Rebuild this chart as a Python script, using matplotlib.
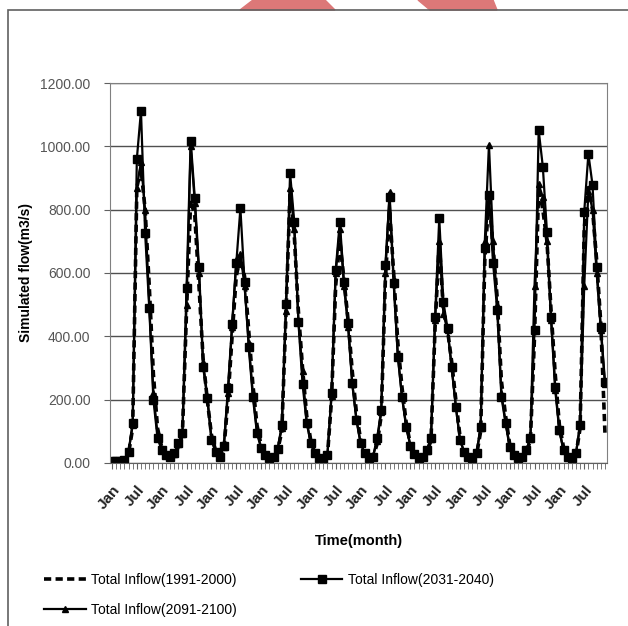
import numpy as np
import matplotlib.pyplot as plt
from matplotlib.patches import Rectangle, Polygon

plt.rcParams['font.family'] = ['Liberation Sans', 'DejaVu Sans']

# monthly simulated inflow, 10 years x 12 months (Jan..Dec)
inflow_1991_2000 = [
    3, 3, 4, 8, 30, 110, 870, 930, 800, 560, 280, 110,
    50, 25, 15, 20, 50, 90, 480, 830, 780, 560, 330, 200,
    90, 40, 20, 40, 200, 400, 590, 650, 590, 420, 250, 120,
    55, 25, 15, 18, 40, 100, 470, 860, 720, 480, 300, 150,
    70, 30, 15, 12, 20, 200, 560, 700, 580, 450, 290, 160,
    75, 35, 15, 18, 60, 150, 580, 800, 600, 380, 240, 130,
    60, 30, 15, 18, 35, 70, 430, 700, 480, 420, 320, 200,
    85, 40, 18, 15, 25, 100, 640, 840, 680, 520, 260, 150,
    60, 28, 15, 18, 35, 70, 400, 870, 800, 700, 480, 280,
    120, 50, 20, 15, 25, 110, 740, 870, 800, 640, 440, 95,
]

inflow_2031_2040 = [
    5, 5, 6, 10, 35, 126, 960, 1112, 726, 490, 200, 78,
    41, 25, 18, 30, 63, 95, 552, 1018, 836, 620, 304, 205,
    73, 36, 20, 55, 236, 439, 630, 804, 572, 367, 209, 94,
    46, 25, 15, 20, 45, 120, 502, 915, 762, 446, 250, 126,
    63, 30, 15, 12, 25, 220, 609, 762, 572, 441, 252, 136,
    62, 30, 15, 20, 78, 167, 625, 841, 567, 336, 209, 115,
    55, 28, 15, 20, 40, 78, 462, 773, 509, 425, 304, 178,
    73, 35, 18, 15, 30, 115, 678, 846, 630, 483, 209, 126,
    50, 25, 15, 20, 40, 78, 420, 1051, 936, 730, 462, 241,
    104, 41, 20, 15, 30, 120, 794, 976, 878, 620, 430, 257,
]

inflow_2091_2100 = [
    5, 5, 6, 10, 35, 120, 870, 950, 800, 500, 220, 90,
    45, 25, 18, 28, 60, 90, 500, 1000, 820, 600, 320, 210,
    80, 38, 20, 50, 220, 430, 640, 660, 560, 380, 220, 100,
    50, 25, 15, 20, 45, 110, 480, 870, 740, 450, 290, 130,
    65, 30, 15, 12, 25, 210, 600, 740, 560, 430, 250, 140,
    65, 30, 15, 20, 70, 160, 600, 855, 580, 340, 210, 120,
    58, 28, 15, 20, 38, 75, 450, 700, 470, 420, 300, 180,
    75, 35, 18, 15, 30, 110, 700, 1005, 700, 500, 220, 130,
    55, 28, 15, 20, 40, 75, 560, 880, 840, 700, 450, 230,
    100, 40, 20, 15, 30, 120, 560, 860, 800, 600, 420, 250,
]

series_labels = ['Total Inflow(1991-2000)', 'Total Inflow(2031-2040)',
                 'Total Inflow(2091-2100)']
month_labels = ['Jan', 'Jul']
y_ticks = [0, 200, 400, 600, 800, 1000, 1200]

months = np.arange(len(inflow_2031_2040))

fig = plt.figure(figsize=(6.28, 6.26), dpi=100)
ax = fig.add_axes([0.175, 0.2604, 0.7916, 0.607])

# watermark fragments and outer frame
fig.patches.append(Polygon([[240, 616], [253, 626], [325, 626], [335, 616]],
                           closed=True, transform=None, color='#dc7878', zorder=0))
fig.patches.append(Polygon([[430, 616], [418, 626], [493, 626], [497, 616]],
                           closed=True, transform=None, color='#dc7878', zorder=0))
fig.patches.append(Rectangle((8, -5), 640, 621, transform=None, fill=False,
                             edgecolor='#606060', linewidth=1.2, zorder=1))

ax.plot(months, inflow_1991_2000, color='black', linestyle=(0, (2, 1.2)),
        linewidth=2.6, label=series_labels[0])
ax.plot(months, inflow_2031_2040, color='black', linewidth=1.6, marker='s',
        markersize=5.5, label=series_labels[1])
ax.plot(months, inflow_2091_2100, color='black', linewidth=1.6, marker='^',
        markersize=4, label=series_labels[2])

ax.set_xlim(-0.5, len(months) - 0.5)
ax.set_ylim(0, 1200)
ax.set_yticks(y_ticks)
ax.set_yticklabels([f'{v:.2f}' for v in y_ticks], fontsize=10, color='#555555')
ax.yaxis.grid(True, color='#505050', linewidth=1)
ax.set_axisbelow(True)

major = months[::6]
ax.set_xticks(major)
ax.set_xticklabels([month_labels[i % 2] for i in range(len(major))],
                   rotation=50, ha='right', rotation_mode='anchor',
                   fontsize=11, fontweight='bold', color='#222222')
ax.set_xticks(months, minor=True)
ax.tick_params(axis='x', which='both', length=4, direction='out', color='#606060')
ax.tick_params(axis='x', which='major', pad=10)
ax.tick_params(axis='y', length=4, color='#606060', pad=10)

for side in ['top', 'right', 'left']:
    ax.spines[side].set_color('#808080')
ax.spines['bottom'].set_color('#606060')

ax.set_ylabel('Simulated flow(m3/s)', fontsize=10, fontweight='bold', labelpad=5)
ax.set_xlabel('Time(month)', fontsize=10.5, fontweight='bold', labelpad=16)

handles, labels = ax.get_legend_handles_labels()
order = [0, 2, 1]
fig.legend([handles[i] for i in order], [labels[i] for i in order],
           loc='lower left', bbox_to_anchor=(0.05, -0.005),
           ncol=2, frameon=False, fontsize=10, columnspacing=4.6,
           handlelength=3.0, handletextpad=0.4, labelspacing=1.15)

fig.savefig('out.png', dpi=100)
